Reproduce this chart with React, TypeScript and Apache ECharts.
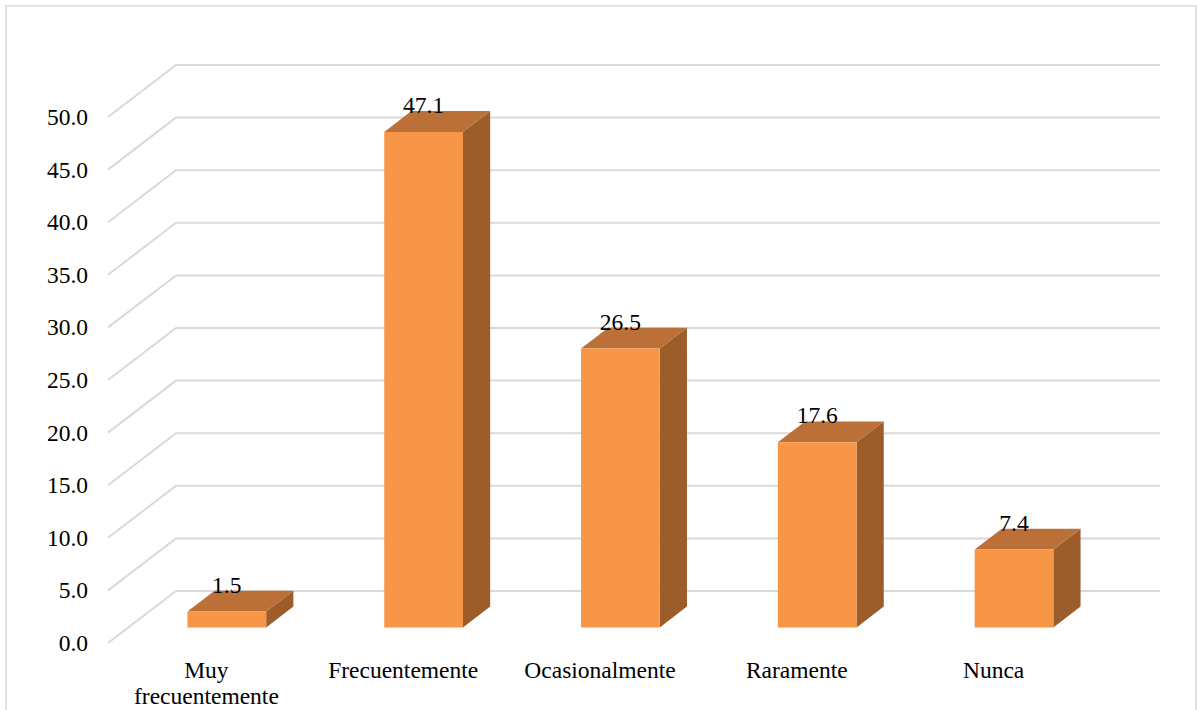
import React, { useEffect, useRef } from "react";
import * as echarts from "echarts";

const categories = ["Muy\nfrecuentemente", "Frecuentemente", "Ocasionalmente", "Raramente", "Nunca"];
const values = [1.5, 47.1, 26.5, 17.6, 7.4];
const yTicks = [0, 5, 10, 15, 20, 25, 30, 35, 40, 45, 50];

// Depth of the 3D box (floor/back wall offset in px)
const DEPTH_X = 68;
const DEPTH_Y = 52;
const BAR_FRONT = 0.3;
const BAR_BACK = 0.7;

const FONT = "Liberation Serif";
const FONT_SIZE = 23.5;

export default function App() {
  const ref = useRef<HTMLDivElement>(null);

  useEffect(() => {
    if (!ref.current) return;
    const chart = echarts.init(ref.current, undefined, { renderer: "svg" });

    const gridRender = (params: any, api: any) => {
      const cs = params.coordSys;
      const v = api.value(1);
      const p = api.coord([0, v]);
      const y = p[1];
      const x0 = cs.x;
      const x1 = cs.x + cs.width;
      return {
        type: "polyline",
        shape: {
          points: [
            [x0, y],
            [x0 + DEPTH_X, y - DEPTH_Y],
            [x1 + DEPTH_X, y - DEPTH_Y],
          ],
        },
        style: { stroke: "#D9D9D9", lineWidth: 2, fill: "none" },
        silent: true,
      };
    };

    const barRender = (params: any, api: any) => {
      const i = api.value(0);
      const v = api.value(1);
      const top = api.coord([i, v]);
      const base = api.coord([i, 0]);
      const band = api.size([1, 0])[0];
      const w = band / 2.5;
      const xl = top[0] - w / 2;
      const xr = top[0] + w / 2;
      const fx = BAR_FRONT * DEPTH_X;
      const fy = BAR_FRONT * DEPTH_Y;
      const bx = BAR_BACK * DEPTH_X;
      const by = BAR_BACK * DEPTH_Y;
      const yT = top[1];
      const yB = base[1];
      return {
        type: "group",
        children: [
          {
            type: "polygon",
            shape: {
              points: [
                [xr + fx, yT - fy],
                [xr + bx, yT - by],
                [xr + bx, yB - by],
                [xr + fx, yB - fy],
              ],
            },
            style: { fill: "#9C5D2B" },
          },
          {
            type: "polygon",
            shape: {
              points: [
                [xl + fx, yT - fy],
                [xr + fx, yT - fy],
                [xr + bx, yT - by],
                [xl + bx, yT - by],
              ],
            },
            style: { fill: "#BA7036" },
          },
          {
            type: "polygon",
            shape: {
              points: [
                [xl + fx, yT - fy],
                [xr + fx, yT - fy],
                [xr + fx, yB - fy],
                [xl + fx, yB - fy],
              ],
            },
            style: { fill: "#F79646" },
          },
          {
            type: "text",
            x: top[0] + fx,
            y: yT - fy - 27,
            style: {
              text: v.toFixed(1),
              align: "center",
              verticalAlign: "middle",
              fontFamily: FONT,
              fontSize: FONT_SIZE,
              fill: "#000",
            },
          },
        ],
      };
    };

    chart.setOption({
      animation: false,
      backgroundColor: "#fff",
      graphic: [
        {
          type: "rect",
          shape: { x: 6, y: 6, width: 1190, height: 720 },
          style: { fill: "none", stroke: "#D9D9D9", lineWidth: 1.5 },
          silent: true,
          z: 0,
        },
      ],
      grid: { left: 108, right: 106, top: 117, bottom: 67 },
      xAxis: {
        type: "category",
        data: categories,
        axisLine: { show: false },
        axisTick: { show: false },
        splitLine: { show: false },
        axisLabel: {
          interval: 0,
          margin: 14,
          fontFamily: FONT,
          fontSize: FONT_SIZE,
          lineHeight: 26,
          color: "#000",
        },
      },
      yAxis: {
        type: "value",
        min: 0,
        max: 50,
        interval: 5,
        axisLine: { show: false },
        axisTick: { show: false },
        splitLine: { show: false },
        axisLabel: {
          margin: 20,
          fontFamily: FONT,
          fontSize: FONT_SIZE,
          color: "#000",
          formatter: (v: number) => v.toFixed(1),
        },
      },
      series: [
        {
          type: "custom",
          renderItem: gridRender,
          data: yTicks.map((t) => [0, t]),
          encode: { x: 0, y: 1 },
          z: 1,
          silent: true,
        },
        {
          type: "custom",
          renderItem: barRender,
          data: values.map((v, i) => [i, v]),
          encode: { x: 0, y: 1 },
          z: 2,
        },
      ],
    });

    return () => chart.dispose();
  }, []);

  return (
    <div
      ref={ref}
      style={{ position: "absolute", left: 0, top: 0, width: 1198, height: 710 }}
    />
  );
}
